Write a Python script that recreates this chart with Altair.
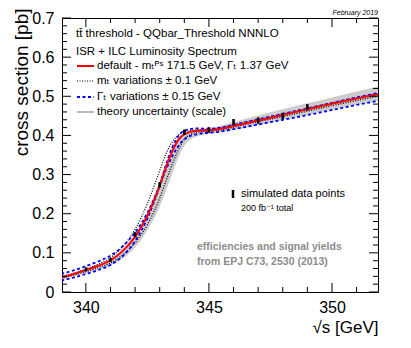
import altair as alt
import pandas as pd

# ---------------- data ----------------
energy = [339.0, 339.5, 340.0, 340.5, 341.0, 341.5, 342.0, 342.5, 343.0, 343.25,
          343.5, 343.75, 344.0, 344.5, 345.0, 345.5, 346.0, 347.0, 348.0, 349.0,
          350.0, 351.0, 352.0]
xsec_default = [0.037, 0.046, 0.056, 0.067, 0.081, 0.105, 0.141, 0.195, 0.272, 0.318,
                0.358, 0.388, 0.403, 0.412, 0.413, 0.417, 0.424, 0.438, 0.452, 0.467,
                0.481, 0.494, 0.507]
xsec_mt_up = [0.039, 0.048, 0.059, 0.071, 0.088, 0.116, 0.160, 0.226, 0.310, 0.352,
              0.383, 0.400, 0.409, 0.414, 0.415, 0.420, 0.427, 0.441, 0.455, 0.469,
              0.483, 0.496, 0.508]
xsec_mt_down = [0.034, 0.043, 0.052, 0.062, 0.074, 0.095, 0.126, 0.172, 0.240, 0.283,
                0.325, 0.362, 0.390, 0.408, 0.411, 0.414, 0.421, 0.435, 0.448, 0.462,
                0.476, 0.489, 0.502]
xsec_gamma_narrow = [0.029, 0.037, 0.046, 0.056, 0.069, 0.092, 0.130, 0.188, 0.272, 0.324,
                     0.368, 0.398, 0.412, 0.418, 0.417, 0.420, 0.427, 0.441, 0.455, 0.469,
                     0.483, 0.497, 0.510]
xsec_gamma_wide = [0.046, 0.055, 0.066, 0.078, 0.093, 0.117, 0.152, 0.202, 0.272, 0.312,
                   0.345, 0.372, 0.390, 0.403, 0.407, 0.410, 0.416, 0.428, 0.440, 0.452,
                   0.465, 0.478, 0.490]
band_hi = [0.040, 0.049, 0.059, 0.070, 0.085, 0.110, 0.148, 0.205, 0.285, 0.330,
           0.368, 0.395, 0.407, 0.416, 0.419, 0.425, 0.434, 0.451, 0.467, 0.482,
           0.497, 0.512, 0.527]
band_lo = [0.032, 0.040, 0.048, 0.057, 0.068, 0.086, 0.114, 0.158, 0.218, 0.258,
           0.300, 0.342, 0.373, 0.397, 0.404, 0.408, 0.414, 0.426, 0.440, 0.453,
           0.466, 0.479, 0.491]

data_energy = [340, 341, 342, 343, 344, 345, 346, 347, 348, 349]
data_xsec = [0.058, 0.082, 0.147, 0.274, 0.408, 0.414, 0.434, 0.438, 0.450, 0.472]
data_err = [0.005, 0.005, 0.006, 0.007, 0.007, 0.007, 0.008, 0.008, 0.008, 0.008]

x_major = [340, 345, 350]
x_minor = [341, 342, 343, 344, 346, 347, 348, 349, 351]
y_major = [0.0, 0.1, 0.2, 0.3, 0.4, 0.5, 0.6, 0.7]
y_minor = [round(0.02 * i, 2) for i in range(36) if i % 5 != 0]

# ---------------- tables ----------------
curves = pd.DataFrame({"x": energy, "y": xsec_default, "lo": band_lo, "hi": band_hi})
mt_df = pd.concat([
    pd.DataFrame({"x": energy, "y": xsec_mt_up, "c": "up"}),
    pd.DataFrame({"x": energy, "y": xsec_mt_down, "c": "down"}),
])
gam_df = pd.concat([
    pd.DataFrame({"x": energy, "y": xsec_gamma_narrow, "c": "narrow"}),
    pd.DataFrame({"x": energy, "y": xsec_gamma_wide, "c": "wide"}),
])
pts = pd.DataFrame({"x": data_energy, "y": data_xsec,
                    "lo": [v - e for v, e in zip(data_xsec, data_err)],
                    "hi": [v + e for v, e in zip(data_xsec, data_err)]})

W, H = 316, 274
FONT = "Liberation Sans, Arial, Helvetica, DejaVu Sans, sans-serif"
xs = alt.Scale(domain=[339.03, 351.87], nice=False, zero=False)
ys = alt.Scale(domain=[0, 0.7], nice=False, zero=False)

xaxis = alt.Axis(title="√s [GeV]", values=x_major, format="d", ticks=False, tickSize=0,
                 domain=False, grid=False, labelFont=FONT, labelFontSize=16,
                 labelColor="black", labelPadding=7, titleFont=FONT, titleFontSize=17,
                 titleFontWeight="normal", titleColor="black", titleX=W, titleY=35,
                 titleAlign="right", titleBaseline="middle")
yaxis = alt.Axis(title="cross section [pb]", values=y_major, format=".1~f", ticks=False,
                 tickSize=0, domain=False, grid=False, labelFont=FONT, labelFontSize=16,
                 labelColor="black", labelPadding=8, titleFont=FONT, titleFontSize=19,
                 titleFontWeight="normal", titleColor="black", titleAngle=270,
                 titleAlign="right", titleBaseline="alphabetic", titleX=-35, titleY=-10)


def X(f):
    return alt.X(f, type="quantitative", scale=xs, axis=xaxis)


def Y(f):
    return alt.Y(f, type="quantitative", scale=ys, axis=yaxis)


band = alt.Chart(curves).mark_area(color="#cccccc", interpolate="monotone", clip=True).encode(
    x=X("x"), y=Y("lo"), y2="hi:Q")
mt_lines = alt.Chart(mt_df).mark_line(color="black", strokeWidth=1.2, strokeDash=[1, 1.5],
                                       interpolate="monotone", clip=True).encode(
    x=X("x"), y=Y("y"), detail="c:N")
gam_lines = alt.Chart(gam_df).mark_line(color="#0000ff", strokeWidth=1.8, strokeDash=[3, 2.5],
                                         interpolate="monotone", clip=True).encode(
    x=X("x"), y=Y("y"), detail="c:N")
red = alt.Chart(curves).mark_line(color="#ff0000", strokeWidth=2, interpolate="monotone",
                                  clip=True).encode(x=X("x"), y=Y("y"))
errbars = alt.Chart(pts).mark_rule(color="black", strokeWidth=2.5).encode(
    x=X("x"), y=Y("lo"), y2="hi:Q")


# inward ticks on all four sides
def yticks(vals, length):
    d = pd.DataFrame({"v": vals})
    left = alt.Chart(d).mark_rule(color="black", strokeWidth=1).encode(
        y=Y("v"), x=alt.value(0), x2=alt.value(length))
    right = alt.Chart(d).mark_rule(color="black", strokeWidth=1).encode(
        y=Y("v"), x=alt.value(W - length), x2=alt.value(W))
    return [left, right]


def xticks(vals, length):
    d = pd.DataFrame({"v": vals})
    bottom = alt.Chart(d).mark_rule(color="black", strokeWidth=1).encode(
        x=X("v"), y=alt.value(H - length), y2=alt.value(H))
    top = alt.Chart(d).mark_rule(color="black", strokeWidth=1).encode(
        x=X("v"), y=alt.value(0), y2=alt.value(length))
    return [bottom, top]


ticks = yticks(y_major, 9) + yticks(y_minor, 5) + xticks(x_major, 9) + xticks(x_minor, 5)

one = pd.DataFrame({"a": [0]})


def txt(s, x, y, size=11.5, color="black", weight="normal", style="normal", align="left"):
    return alt.Chart(one).mark_text(text=s, font=FONT, fontSize=size, color=color,
                                    fontWeight=weight, fontStyle=style, align=align,
                                    baseline="middle").encode(
        x=alt.value(x), y=alt.value(y))


def sample(y, color, width, dash=None):
    kw = dict(color=color, strokeWidth=width)
    if dash:
        kw["strokeDash"] = dash
    return alt.Chart(one).mark_rule(**kw).encode(
        x=alt.value(15), x2=alt.value(32), y=alt.value(y))


texts = [
    txt("February 2019", W, -5, size=7, style="italic", align="right"),
    txt("tt\u0304 threshold - QQbar_Threshold NNNLO", 14, 16),
    txt("ISR + ILC Luminosity Spectrum", 14, 34),
    sample(48, "#ff0000", 2),
    txt("default - m\u209c\u1d3e\u02e2 171.5 GeV, \u0393\u209c 1.37 GeV", 35, 48),
    sample(63, "black", 1.2, [1, 1.5]),
    txt("m\u209c variations \u00b1 0.1 GeV", 35, 63),
    sample(79, "#0000ff", 1.8, [3, 2.5]),
    txt("\u0393\u209c variations \u00b1 0.15 GeV", 35, 79),
    sample(94, "#bbbbbb", 2),
    txt("theory uncertainty (scale)", 35, 94),
    alt.Chart(one).mark_rule(color="black", strokeWidth=2.5).encode(
        x=alt.value(171), y=alt.value(172), y2=alt.value(180)),
    txt("simulated data points", 179, 176, size=11),
    txt("200 fb\u207b\u00b9 total", 179, 190, size=9),
    txt("efficiencies and signal yields", 135, 229, size=10.5, color="#8c8c8c", weight="bold"),
    txt("from EPJ C73, 2530 (2013)", 135, 244, size=10.5, color="#8c8c8c", weight="bold"),
]

chart = alt.layer(band, mt_lines, gam_lines, red, errbars, *ticks, *texts).properties(
    width=W, height=H,
    padding={"left": 54, "top": 10, "right": 17, "bottom": 52},
    autosize=alt.AutoSizeParams(type="none"),
).configure_view(stroke="black", strokeWidth=1)

chart.save("out.html", embed_options={"renderer": "svg", "actions": False})
